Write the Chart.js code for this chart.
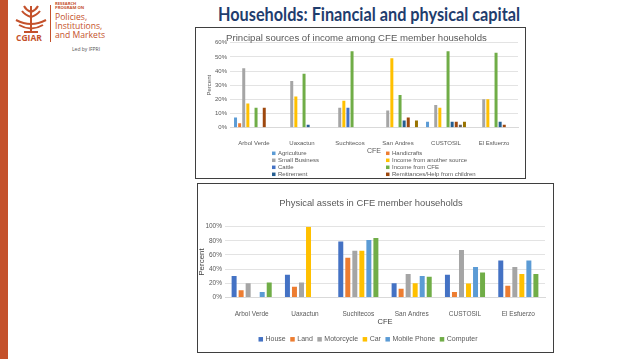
<!DOCTYPE html>
<html><head><meta charset="utf-8">
<script src="https://cdn.jsdelivr.net/npm/chart.js@4.4.1/dist/chart.umd.min.js"></script>
<style>
html,body{margin:0;padding:0;background:#fff;width:638px;height:359px;overflow:hidden;position:relative;font-family:"Liberation Sans Narrow","Liberation Sans",sans-serif}
#accent{position:absolute;left:0;top:0;width:8px;height:359px;background:#C4512B}
#title{position:absolute;left:369px;top:3px;white-space:nowrap;font-family:Lato,"Liberation Sans",sans-serif;font-weight:bold;font-size:18px;color:#1F3D6E;transform-origin:0 0}
.box{position:absolute;background:#fff;overflow:hidden}
.box canvas{position:absolute;left:0;top:0}
.frame{position:absolute;border:1.5px solid #3F3F3F;box-sizing:border-box;pointer-events:none}
.lg{position:absolute;color:#C4512B;white-space:nowrap;font-family:"Open Sans","Liberation Sans",sans-serif}
</style></head>
<body>
<div id="accent"></div>
<svg style="position:absolute;left:13px;top:4px" width="36" height="31" viewBox="0 0 36 31">
 <g fill="none" stroke="#C4512B" stroke-width="2">
  <path d="M18 2 L18 28"/>
  <path d="M18 8 Q13 6 11 2"/><path d="M18 8 Q23 6 25 2"/>
  <path d="M18 13 Q12 11 9 7"/><path d="M18 13 Q24 11 27 7"/>
  <path d="M3 16 Q18 24 33 16"/>
  <path d="M6 21 Q18 28 30 21"/>
  <path d="M11 28 L25 28"/>
 </g>
</svg>
<div class="lg" style="left:16px;top:32px;font-size:8.5px;font-weight:bold">CGIAR</div>
<div style="position:absolute;left:50px;top:5px;width:1px;height:37px;background:#C4512B"></div>
<div class="lg" style="left:55px;top:2px;font-size:4.2px;font-weight:bold;line-height:4.4px">RESEARCH<br>PROGRAM ON</div>
<div class="lg" style="left:55px;top:13px;font-size:8.6px;line-height:8.8px">Policies,<br>Institutions,<br>and Markets</div>
<div class="lg" style="left:72px;top:46px;font-size:5px;color:#555">Led by IFPRI</div>
<div id="title">Households: Financial and physical capital</div>

<div class="box" style="left:195px;top:27px;width:330px;height:151px"><canvas id="c1" width="330" height="151"></canvas></div>
<div class="frame" style="left:195px;top:27px;width:331px;height:152px"></div>
<div class="box" style="left:197px;top:183px;width:356px;height:169px"><canvas id="c2" width="356" height="169"></canvas></div>
<div class="frame" style="left:197px;top:183px;width:357px;height:170px"></div>

<script>
// ---------- data ----------
const categories = ['Arbol Verde','Uaxactun','Suchitecos','San Andres','CUSTOSIL','El Esfuerzo'];

const incomeSources = ['Agriculture','Handicrafts','Small Business','Income from another source','Cattle','Income from CFE','Retirement','Remittances/Help from children','Other','Pension'];
const agriculture   = [7, 0, 0, 0, 4, 0];
const handicrafts   = [3, 0, 0, 0, 0, 0];
const smallBusiness = [42, 33, 14, 12, 16, 20];
const otherSource   = [17, 22, 19, 49, 14, 20];
const cattle        = [0, 0, 14, 0, 0, 0];
const incomeCFE     = [14, 38, 54, 23, 54, 53];
const retirement    = [0, 2, 0, 5, 4, 4];
const remittances   = [14, 0, 0, 7, 4, 2];
const otherIncome   = [0, 0, 0, 0, 2, 0];
const pension       = [0, 0, 0, 5, 4, 0];
const incomeTicks   = [0, 10, 20, 30, 40, 50, 60];

const assetNames  = ['House','Land','Motorcycle','Car','Mobile Phone','Computer'];
const house       = [30, 32, 79, 20, 32, 52];
const land        = [10, 15, 56, 12, 7.5, 16.5];
const motorcycle  = [20, 21, 66, 33, 67, 43];
const car         = [0, 100, 66, 20, 19.5, 33];
const mobilePhone = [7.5, 0, 81, 30, 43, 52];
const computer    = [21, 0, 84, 29, 35, 33];
const assetTicks  = [0, 20, 40, 60, 80, 100];

// ---------- styling ----------
const FONT = "'Liberation Sans Narrow', 'Liberation Sans', sans-serif";
const GREY = '#595959';
const incomeColors = ['#5B9BD5','#ED7D31','#A5A5A5','#FFC000','#4472C4','#70AD47','#255E91','#9E480E','#636363','#997300'];
const assetColors  = ['#4472C4','#ED7D31','#A5A5A5','#FFC000','#5B9BD5','#70AD47'];

// fit main title
const t = document.getElementById('title');
const tw = t.getBoundingClientRect().width;
t.style.transform = 'scaleX(' + (302 / tw) + ')';
t.style.left = (369 - 151) + 'px';

// custom legend plugin
const customLegend = {
  id: 'customLegend',
  afterDraw(chart, args, o) {
    const ctx = chart.ctx;
    const ds = chart.data.datasets;
    ctx.save();
    ctx.font = o.fontSize + 'px ' + FONT;
    ctx.textBaseline = 'middle';
    if (o.mode === 'grid') {
      ds.forEach((d, i) => {
        const col = i % 2, row = Math.floor(i / 2);
        const x = o.cols[col], y = o.y0 + row * o.rowH;
        ctx.fillStyle = d.backgroundColor;
        ctx.fillRect(x, y - o.box / 2, o.box, o.box);
        ctx.fillStyle = GREY;
        ctx.fillText(d.label, x + o.box + o.gap, y);
      });
    } else {
      const widths = ds.map(d => o.box + o.gap + ctx.measureText(d.label).width);
      const total = widths.reduce((a, b) => a + b, 0) + o.itemGap * (ds.length - 1);
      let x = o.cx - total / 2;
      ds.forEach((d, i) => {
        ctx.fillStyle = d.backgroundColor;
        ctx.fillRect(x, o.y - o.box / 2, o.box, o.box);
        ctx.fillStyle = GREY;
        ctx.fillText(d.label, x + o.box + o.gap, o.y);
        x += widths[i] + o.itemGap;
      });
    }
    ctx.restore();
  }
};

Chart.defaults.font.family = FONT;
Chart.defaults.color = GREY;

// ---------- chart 1 ----------
const incomeSeries = [agriculture, handicrafts, smallBusiness, otherSource, cattle, incomeCFE, retirement, remittances, otherIncome, pension];
new Chart(document.getElementById('c1'), {
  type: 'bar',
  data: {
    labels: categories,
    datasets: incomeSeries.map((v, i) => ({
      label: incomeSources[i], data: v, backgroundColor: incomeColors[i],
      categoryPercentage: 0.855, barPercentage: 0.73
    }))
  },
  options: {
    responsive: false, animation: false,
    layout: { padding: { left: 0, right: 7, top: 0, bottom: 22.5 } },
    plugins: {
      legend: { display: false }, tooltip: { enabled: false },
      title: { display: true, text: 'Principal sources of income among CFE member households',
        color: GREY, font: { size: 9.6, weight: 'normal', lineHeight: 1, family: FONT }, padding: { top: 6.2, bottom: 0 } },
      customLegend: { mode: 'grid', fontSize: 6, box: 3.5, gap: 2.5, cols: [77, 191], y0: 126.3, rowH: 7 }
    },
    scales: {
      x: {
        grid: { display: false }, border: { color: '#D9D9D9' },
        ticks: { font: { size: 6 }, color: GREY, padding: 4, maxRotation: 0 },
        title: { display: true, text: 'CFE', font: { size: 7 }, color: GREY, padding: { top: 0, bottom: 0.6 } },
        afterFit: s => { s.height = 28; }
      },
      y: {
        min: 0, max: 60,
        afterBuildTicks: s => { s.ticks = incomeTicks.map(v => ({ value: v })); },
        grid: { color: '#D9D9D9', lineWidth: 0.75, drawTicks: false }, border: { display: false },
        ticks: { font: { size: 6 }, color: GREY, padding: 3, callback: v => v + '%' },
        title: { display: true, text: 'Percent', font: { size: 6 }, color: GREY, padding: { top: 10.4, bottom: 0 } },
        afterFit: s => { s.width = 35; }
      }
    }
  },
  plugins: [customLegend]
});

// ---------- chart 2 ----------
const assetSeries = [house, land, motorcycle, car, mobilePhone, computer];
new Chart(document.getElementById('c2'), {
  type: 'bar',
  data: {
    labels: categories,
    datasets: assetSeries.map((v, i) => ({
      label: assetNames[i], data: v, backgroundColor: assetColors[i],
      categoryPercentage: 0.79, barPercentage: 0.71
    }))
  },
  options: {
    responsive: false, animation: false,
    layout: { padding: { left: 0, right: 8, top: 0, bottom: 24.7 } },
    plugins: {
      legend: { display: false }, tooltip: { enabled: false },
      title: { display: true, text: 'Physical assets in CFE member households',
        color: GREY, font: { size: 9.4, weight: 'normal', lineHeight: 1, family: FONT }, padding: { top: 15.3, bottom: 19 } },
      customLegend: { mode: 'row', fontSize: 7, box: 4.5, gap: 2.5, itemGap: 4.5, cx: 171, y: 156.3 }
    },
    scales: {
      x: {
        grid: { display: false }, border: { color: '#D9D9D9' },
        ticks: { font: { size: 6.5 }, color: GREY, padding: 5.5, maxRotation: 0 },
        title: { display: true, text: 'CFE', font: { size: 7.5 }, color: '#404040', padding: { top: 0, bottom: 0.5 } },
        afterFit: s => { s.height = 30; }
      },
      y: {
        min: 0, max: 100,
        afterBuildTicks: s => { s.ticks = assetTicks.map(v => ({ value: v })); },
        grid: { color: '#D9D9D9', lineWidth: 0.75, drawTicks: false }, border: { display: false },
        ticks: { font: { size: 6.5 }, color: GREY, padding: 3, callback: v => v + '%' },
        title: { display: true, text: 'Percent', font: { size: 8 }, color: '#404040', padding: { top: 0.2, bottom: 0 } },
        afterFit: s => { s.width = 28; }
      }
    }
  },
  plugins: [customLegend]
});
</script>
</body></html>
